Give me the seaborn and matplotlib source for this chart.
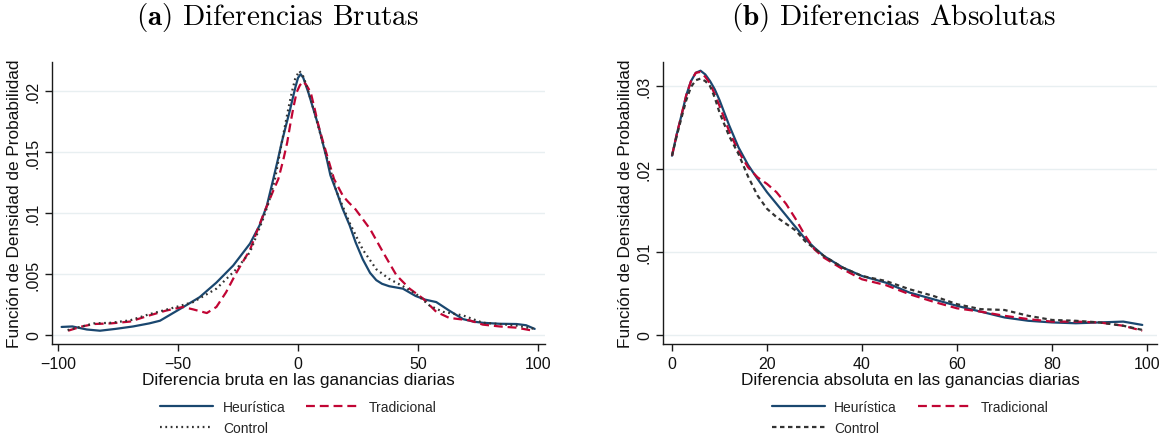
import numpy as np
import pandas as pd
import matplotlib
matplotlib.use("Agg")
import matplotlib.pyplot as plt
import seaborn as sns
from matplotlib.ticker import FixedLocator, FixedFormatter

# ---------------- data ----------------
# Panel (a): raw differences
a_heur_x = [-98.5, -94, -88, -82.5, -76, -68.7, -62, -57.5, -48, -41, -34, -27, -20, -16, -13, -10.3, -8.5, -6.8, -5, -3.3, -2, -1, 0, 1.1, 2.2, 4.3, 6.3, 8.5, 11.8, 13.5, 16, 18.5, 21.5, 24, 27, 30, 32.6, 35, 38, 43.7, 49, 53, 57.6, 63, 68.8, 73, 77, 84, 91, 95, 98.6]
a_heur_y = [0.00066, 0.0007, 0.00045, 0.00035, 0.0005, 0.0007, 0.00095, 0.00117, 0.00227, 0.0031, 0.0043, 0.0057, 0.0075, 0.0090, 0.0106, 0.0128, 0.0143, 0.0158, 0.0172, 0.0185, 0.0196, 0.0204, 0.0211, 0.0214, 0.0211, 0.0199, 0.0186, 0.01716, 0.0146, 0.0131, 0.0118, 0.0104, 0.009, 0.0076, 0.0062, 0.0051, 0.0045, 0.0042, 0.004, 0.0038, 0.0032, 0.0029, 0.0027, 0.002, 0.0013, 0.0011, 0.001, 0.00092, 0.0009, 0.0008, 0.0005]

a_trad_x = [-95.8, -90, -85, -78, -70, -62, -55, -48, -43.7, -38, -34, -30, -25.7, -20, -14.6, -10.4, -8.2, -6.1, -4.5, -3.3, -2, -0.6, 0.8, 2.2, 3.5, 5.3, 7, 8.5, 10.5, 12.6, 15, 18.75, 21, 24, 27, 30, 35.4, 41, 46.5, 52, 57.6, 63, 71.5, 77, 84, 91, 98]
a_trad_y = [0.00035, 0.0007, 0.0009, 0.00095, 0.0011, 0.0016, 0.002, 0.0023, 0.0021, 0.0018, 0.0023, 0.0035, 0.0051, 0.007, 0.0098, 0.0118, 0.0128, 0.0144, 0.0158, 0.0172, 0.0186, 0.0199, 0.0205, 0.0208, 0.0205, 0.0199, 0.0185, 0.0172, 0.0158, 0.0144, 0.0128, 0.0114, 0.0109, 0.0103, 0.0095, 0.0087, 0.0068, 0.0049, 0.0038, 0.003, 0.0019, 0.0014, 0.0012, 0.00085, 0.0007, 0.0006, 0.00035]

a_ctrl_x = [-96, -90, -85, -78, -70, -62, -50.7, -43.7, -34, -25.7, -20, -14.6, -12, -9.6, -7.5, -5.4, -4, -2.6, -1.2, 0.5, 2, 3.5, 5.5, 7.6, 11.8, 16, 21.5, 27, 32.6, 38, 43.7, 49, 54.9, 60.4, 68.8, 77, 84, 91, 98.6]
a_ctrl_y = [0.0004, 0.0007, 0.00095, 0.001, 0.0012, 0.0017, 0.0023, 0.0027, 0.0038, 0.0054, 0.0068, 0.0095, 0.0110, 0.0128, 0.015, 0.0172, 0.0186, 0.0199, 0.021, 0.02167, 0.0213, 0.0205, 0.0192, 0.0177, 0.0147, 0.0118, 0.0092, 0.007, 0.0054, 0.0046, 0.004, 0.0034, 0.0024, 0.0019, 0.0016, 0.001, 0.0009, 0.00077, 0.0005]

# Panel (b): absolute differences
b_x = [0, 1, 2, 3, 4, 5, 6, 7, 8, 9, 10, 12, 14, 16, 18, 20, 22, 24, 26, 28, 30, 32, 36, 40, 45, 50, 55, 60, 65, 70, 75, 80, 85, 90, 95, 99]
b_heur_y = [0.0216, 0.0242, 0.0265, 0.0289, 0.0306, 0.0316, 0.03185, 0.0314, 0.0306, 0.0296, 0.0283, 0.0253, 0.0226, 0.0205, 0.0188, 0.0172, 0.0158, 0.0144, 0.013, 0.0116, 0.0105, 0.0095, 0.0081, 0.0071, 0.0063, 0.0051, 0.0043, 0.0035, 0.0028, 0.0021, 0.0017, 0.0015, 0.0014, 0.0015, 0.0016, 0.0012]
b_trad_y = [0.0216, 0.0242, 0.0265, 0.0289, 0.0306, 0.0316, 0.0317, 0.0311, 0.0303, 0.029, 0.0276, 0.0246, 0.0221, 0.0202, 0.019, 0.0182, 0.0172, 0.0158, 0.014, 0.012, 0.0103, 0.0093, 0.0079, 0.0067, 0.006, 0.0049, 0.004, 0.0032, 0.0028, 0.0023, 0.0019, 0.0016, 0.0016, 0.0015, 0.0011, 0.0005]
b_ctrl_y = [0.0216, 0.024, 0.0262, 0.0283, 0.0299, 0.0307, 0.0309, 0.0306, 0.03, 0.0286, 0.0268, 0.024, 0.0218, 0.0191, 0.0168, 0.0152, 0.0142, 0.0134, 0.0126, 0.0113, 0.0104, 0.0095, 0.0081, 0.0071, 0.0065, 0.0055, 0.0047, 0.0037, 0.0031, 0.003, 0.0023, 0.0018, 0.0017, 0.0015, 0.0011, 0.0006]

series_names = ["Heurística", "Tradicional", "Control"]
a_xticks = [-100, -50, 0, 50, 100]
a_xticklabels = ["\u2212100", "\u221250", "0", "50", "100"]
a_yticks = [0, 0.005, 0.01, 0.015, 0.02]
a_yticklabels = ["0", ".005", ".01", ".015", ".02"]
b_xticks = [0, 20, 40, 60, 80, 100]
b_xticklabels = ["0", "20", "40", "60", "80", "100"]
b_yticks = [0, 0.01, 0.02, 0.03]
b_yticklabels = ["0", ".01", ".02", ".03"]

titles = [r"$\mathbf{(a)}$ Diferencias Brutas", r"$\mathbf{(b)}$ Diferencias Absolutas"]
xlabels = ["Diferencia bruta en las ganancias diarias", "Diferencia absoluta en las ganancias diarias"]
ylabel = "Función de Densidad de Probabilidad"

# ---------------- styling ----------------
sns.set_theme(style="white")
plt.rcParams["font.family"] = ["Liberation Sans", "DejaVu Sans"]
plt.rcParams["mathtext.fontset"] = "cm"

BLUE = "#1a476f"
RED = "#c10534"
GRAY = "#333333"
GRID = "#e8eff1"

W, H = 1164, 439
fig = plt.figure(figsize=(W / 100, H / 100), dpi=100)
ax_a = fig.add_axes([52 / W, 94 / H, 493 / W, 282 / H])
ax_b = fig.add_axes([663 / W, 94 / H, 494 / W, 282 / H])

df_a = pd.concat([
    pd.DataFrame({"x": a_heur_x, "y": a_heur_y, "grupo": series_names[0]}),
    pd.DataFrame({"x": a_trad_x, "y": a_trad_y, "grupo": series_names[1]}),
    pd.DataFrame({"x": a_ctrl_x, "y": a_ctrl_y, "grupo": series_names[2]}),
])
df_b = pd.concat([
    pd.DataFrame({"x": b_x, "y": b_heur_y, "grupo": series_names[0]}),
    pd.DataFrame({"x": b_x, "y": b_trad_y, "grupo": series_names[1]}),
    pd.DataFrame({"x": b_x, "y": b_ctrl_y, "grupo": series_names[2]}),
])

palette = {series_names[0]: BLUE, series_names[1]: RED, series_names[2]: GRAY}
dashes_a = {series_names[0]: "", series_names[1]: (4, 2.2), series_names[2]: (0.8, 1.6)}
dashes_b = {series_names[0]: "", series_names[1]: (4, 2.2), series_names[2]: (2, 1.6)}

for ax, df, dashes in [(ax_a, df_a, dashes_a), (ax_b, df_b, dashes_b)]:
    sns.lineplot(data=df, x="x", y="y", hue="grupo", style="grupo",
                 palette=palette, dashes=dashes, sort=False, estimator=None,
                 linewidth=1.6, ax=ax, legend=False)
    for ln in ax.get_lines():
        ln.set_solid_joinstyle("round")
        ln.set_dash_joinstyle("round")

configs = [
    (ax_a, a_xticks, a_xticklabels, a_yticks, a_yticklabels, (-102.5, 102.9), (-0.00074, 0.0224), dashes_a, 277),
    (ax_b, b_xticks, b_xticklabels, b_yticks, b_yticklabels, (-1.9, 102.1), (-0.0011, 0.0329), dashes_b, 893),
]
for i, (ax, xt, xtl, yt, ytl, xl, yl, dashes, tcx) in enumerate(configs):
    ax.set_xlim(*xl)
    ax.set_ylim(*yl)
    ax.xaxis.set_major_locator(FixedLocator(xt))
    ax.xaxis.set_major_formatter(FixedFormatter(xtl))
    ax.yaxis.set_major_locator(FixedLocator(yt))
    ax.yaxis.set_major_formatter(FixedFormatter(ytl))
    ax.grid(axis="y", color=GRID, linewidth=1.0)
    ax.grid(axis="x", visible=False)
    ax.set_axisbelow(True)
    for s in ["top", "right"]:
        ax.spines[s].set_visible(False)
    for s in ["left", "bottom"]:
        ax.spines[s].set_color("#1a1a1a")
        ax.spines[s].set_linewidth(1.0)
    ax.tick_params(axis="both", direction="out", length=5, width=1.0, color="#1a1a1a",
                   labelsize=11.5, labelcolor="#111111", left=True, bottom=True)
    ax.tick_params(axis="y", labelrotation=90, pad=3)
    for lab in ax.get_yticklabels():
        lab.set_va("center")
    ax.set_xlabel(xlabels[i], fontsize=12.4, color="#111111", labelpad=1)
    ax.set_ylabel(ylabel, fontsize=12.4, color="#111111", labelpad=3)
    fig.text(tcx / W, 1 - 25 / H, titles[i], fontsize=21, fontfamily="cmr10",
             ha="center", va="baseline", color="black")

    handles = [
        plt.Line2D([], [], color=BLUE, lw=1.6),
        plt.Line2D([], [], color=GRAY, lw=1.6, dashes=dashes[series_names[2]]),
        plt.Line2D([], [], color=RED, lw=1.6, dashes=dashes[series_names[1]]),
    ]
    labels = [series_names[0], series_names[2], series_names[1]]
    ax.legend(handles, labels, loc="upper center", bbox_to_anchor=(0.5, -0.18),
              ncol=2, frameon=False, fontsize=10, handlelength=3.8,
              handletextpad=0.7, columnspacing=1.5, labelspacing=0.45,
              borderaxespad=0)

fig.savefig("out.png", dpi=100, facecolor="white")
